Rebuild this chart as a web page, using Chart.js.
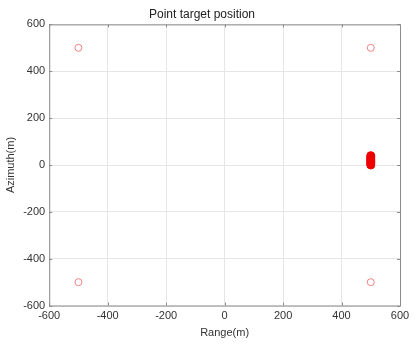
<!DOCTYPE html>
<html>
<head>
<meta charset="utf-8">
<script src="https://cdn.jsdelivr.net/npm/chart.js@4"></script>
<style>
  html, body { margin: 0; padding: 0; background: #fff; }
  #wrap { width: 416px; height: 348px; }
</style>
</head>
<body>
<div id="wrap"><canvas id="chart" width="416" height="348"></canvas></div>
<script>
// corner targets (open circles)
const cornerX = [-500, 500, -500, 500]
const cornerY = [500, 500, -500, -500]

// target cluster near range 500 (filled)
const clusterX = [500, 500, 500, 500, 500, 500, 500, 500, 500]
const clusterY = [0, 5, 10, 15, 20, 25, 30, 35, 40]

const xTicks = [-600, -400, -200, 0, 200, 400, 600]
const yTicks = [-600, -400, -200, 0, 200, 400, 600]

const toPoints = (xs, ys) => xs.map((x, i) => ({ x: x, y: ys[i] }))

Chart.defaults.font.family = "'Liberation Sans', Arial, sans-serif"
Chart.defaults.font.size = 11
Chart.defaults.color = "#333"

// box around the plot area, with small inward ticks on every side
const boxPlugin = {
  id: "box",
  afterDraw(chart) {
    const a = chart.chartArea
    const ctx = chart.ctx
    const xs = chart.scales.x
    const ys = chart.scales.y
    ctx.save()
    ctx.strokeStyle = "#8c8c8c"
    ctx.lineWidth = 1
    ctx.strokeRect(a.left + 0.5, a.top + 0.5, a.right - a.left, a.bottom - a.top)
    ctx.beginPath()
    xTicks.forEach(v => {
      const px = Math.round(xs.getPixelForValue(v)) + 0.5
      ctx.moveTo(px, a.top); ctx.lineTo(px, a.top + 3)
      ctx.moveTo(px, a.bottom); ctx.lineTo(px, a.bottom - 3)
    })
    yTicks.forEach(v => {
      const py = Math.round(ys.getPixelForValue(v)) + 0.5
      ctx.moveTo(a.left, py); ctx.lineTo(a.left + 3, py)
      ctx.moveTo(a.right, py); ctx.lineTo(a.right - 3, py)
    })
    ctx.stroke()
    ctx.restore()
  }
}

new Chart(document.getElementById("chart"), {
  type: "scatter",
  data: {
    datasets: [
      {
        data: toPoints(cornerX, cornerY),
        pointStyle: "circle",
        pointRadius: 3.5,
        borderColor: "#f08080",
        backgroundColor: "rgba(0,0,0,0)",
        borderWidth: 1
      },
      {
        data: toPoints(clusterX, clusterY),
        pointStyle: "circle",
        pointRadius: 4,
        borderColor: "#ee0000",
        backgroundColor: "#ee0000",
        borderWidth: 1
      }
    ]
  },
  options: {
    responsive: false,
    animation: false,
    layout: { padding: { left: 4, right: 16, top: 5, bottom: 8 } },
    plugins: {
      legend: { display: false },
      tooltip: { enabled: false },
      title: {
        display: true,
        text: "Point target position",
        color: "#222",
        font: { size: 12, weight: "normal" },
        padding: { top: 2, bottom: 3 }
      }
    },
    scales: {
      x: {
        type: "linear",
        min: -600,
        max: 600,
        afterBuildTicks: s => { s.ticks = xTicks.map(v => ({ value: v })) },
        grid: { color: "#e6e6e6", drawTicks: false },
        border: { display: false },
        ticks: { padding: 4, color: "#333" },
        title: { display: true, text: "Range(m)", color: "#333", padding: { top: 0, bottom: 0 } }
      },
      y: {
        type: "linear",
        min: -600,
        max: 600,
        afterBuildTicks: s => { s.ticks = yTicks.map(v => ({ value: v })) },
        grid: { color: "#e6e6e6", drawTicks: false },
        border: { display: false },
        ticks: { padding: 4, color: "#333" },
        title: { display: true, text: "Azimuth(m)", color: "#333", padding: { top: 0, bottom: 2 } }
      }
    }
  },
  plugins: [boxPlugin]
})
</script>
</body>
</html>
